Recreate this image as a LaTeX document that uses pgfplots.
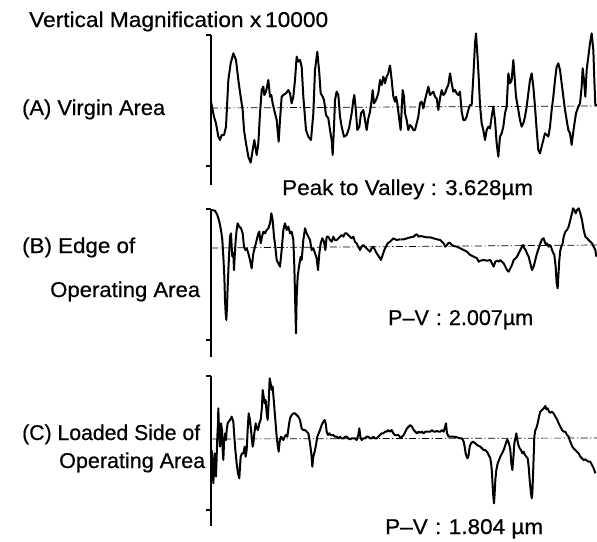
\documentclass[border=0pt]{standalone}
\usepackage{pgfplots}
\pgfplotsset{compat=1.18}
\usepackage{graphicx}
\usepackage{fontspec}
\setmainfont{Liberation Sans}
\newfontfamily\lblfont{Liberation Sans}[FakeBold=0.5]

% Profile traces are sampled in thirds of a point; each table block carries
% its own origin so the blocks join end to end along the trace.
\pgfplotsset{
  profile/.style={
    x=1bp, y=1bp, y dir=reverse,
    xmin=211, xmax=597,
    axis y line=left, axis x line=none,
    xtick=\empty,
    yticklabels={},
    tick align=outside,
    major tick length=5bp,
    every tick/.style={black, line width=1.5bp},
    y axis line style={-, line width=1.6bp},
    clip=false,
    scale only axis,
  },
  trace/.style={black, line width=2bp, line join=round, no markers},
  datum/.style={black, line width=0.7bp, no markers,
    dash pattern=on 7bp off 2.5bp on 1.2bp off 2.5bp},
}
% label set to a fixed width
\newcommand{\lbl}[2]{\resizebox{#1bp}{\height}{\lblfont\fontsize{21.5}{24}\selectfont #2}}

\begin{document}
\begin{tikzpicture}
\useasboundingbox (0,0) rectangle (597bp,-542bp);

% ---------------- (A) Virgin Area ----------------
\begin{axis}[profile, at={(211bp,-35bp)}, anchor=north west,
  ymin=35, ymax=185, ytick={35,166}]
\addplot[datum] coordinates {(211,108) (597,106)};
\addplot[trace] table[row sep=\\, x expr=\thisrow{x}/3+200, y expr=\thisrow{y}/3+30] {
x y\\
33 215\\ 38 240\\ 42 260\\ 48 280\\ 55 320\\ 60 330\\ 65 315\\ 72 315\\ 78 290\\ 85 150\\
92 100\\ 100 70\\ 108 90\\ 115 150\\ 122 200\\ 128 240\\ 132 300\\ 138 340\\ 145 380\\ 152 398\\
158 360\\ 163 330\\ 170 375\\ 175 340\\ 180 250\\ 185 180\\ 190 170\\ 193 195\\ 198 185\\ 205 150\\
210 200\\ 214 195\\ 218 220\\ 225 250\\ 230 270\\ 236 335\\ 240 270\\ 245 200\\ 250 195\\ 258 190\\
265 180\\ 270 190\\ 275 220\\ 280 200\\ 285 150\\ 290 80\\ 295 95\\ 300 90\\ 305 110\\ 310 200\\
318 300\\ 325 320\\ 333 330\\ 340 250\\ 345 120\\ 352 65\\ 358 130\\ 362 190\\ 368 200\\ 372 210\\
378 255\\ 385 265\\ 390 300\\ 395 330\\ 398 375\\ 402 290\\ 405 210\\ 410 185\\ 415 195\\ 420 260\\
425 290\\ 432 320\\ 440 315\\ 447 295\\ 455 250\\ 460 210\\ 463 195\\ 467 235\\ 472 300\\ 478 290\\
483 250\\ 490 240\\ 495 270\\ 500 300\\ 505 265\\ 510 245\\ 515 210\\ 518 180\\ 522 220\\ 528 210\\
535 190\\ 540 150\\ 545 165\\ 550 140\\ 555 160\\ 560 140\\ 565 130\\ 570 105\\
};
\addplot[trace] table[row sep=\\, x expr=\thisrow{x}/3+390, y expr=\thisrow{y}/3+30] {
x y\\
0 105\\ 5 150\\ 10 200\\ 15 215\\ 18 200\\ 22 220\\ 28 270\\ 32 300\\ 35 240\\ 38 180\\
42 200\\ 45 250\\ 50 270\\ 55 300\\ 60 285\\ 65 290\\ 70 300\\ 75 300\\ 80 280\\ 85 260\\
90 220\\ 95 215\\ 100 235\\ 105 210\\ 110 190\\ 115 170\\ 120 195\\ 125 190\\ 130 185\\ 135 200\\
140 205\\ 145 240\\ 150 205\\ 155 180\\ 160 195\\ 165 190\\ 170 175\\ 175 165\\ 180 130\\ 185 160\\
190 185\\ 195 180\\ 200 190\\ 205 195\\ 210 185\\ 215 245\\ 220 270\\ 225 270\\ 230 260\\ 235 240\\
240 225\\ 245 225\\ 250 140\\ 255 40\\ 258 10\\ 262 70\\ 266 140\\ 270 225\\ 275 280\\ 280 300\\
285 330\\ 290 300\\ 295 290\\ 300 295\\ 305 260\\ 310 230\\ 315 270\\ 320 340\\ 325 380\\ 330 320\\
335 310\\ 340 290\\ 345 250\\ 350 230\\ 355 130\\ 360 160\\ 365 150\\ 370 90\\ 373 130\\ 378 200\\
385 240\\ 390 270\\ 395 290\\ 400 280\\ 405 260\\ 410 230\\ 415 190\\ 420 150\\ 425 130\\ 430 170\\
435 230\\ 440 300\\ 445 360\\ 450 370\\ 455 350\\ 460 330\\ 465 310\\ 470 315\\ 475 320\\ 480 290\\
485 240\\ 490 200\\ 495 150\\ 500 110\\ 505 100\\ 510 120\\ 515 160\\ 520 200\\ 525 240\\ 530 270\\
535 300\\ 540 310\\ 545 345\\ 548 320\\ 552 290\\ 558 250\\ 565 230\\ 570 220\\ 575 170\\ 578 115\\
582 150\\ 586 200\\ 590 120\\ 595 80\\ 600 40\\ 605 10\\ 610 60\\ 613 150\\ 616 225\\ 622 225\\
};
\end{axis}

% ---------------- (B) Edge of Operating Area ----------------
\begin{axis}[profile, at={(211bp,-209bp)}, anchor=north west,
  ymin=209, ymax=357, ytick={209,340}]
\addplot[datum] coordinates {(211,248) (597,245)};
\addplot[trace] table[row sep=\\, x expr=\thisrow{x}/3+200, y expr=\thisrow{y}/3+200] {
x y\\
35 30\\ 45 32\\ 52 45\\ 58 65\\ 63 90\\ 67 120\\ 70 170\\ 73 230\\ 75 300\\ 77 340\\
79 360\\ 81 320\\ 83 260\\ 86 190\\ 88 150\\ 90 110\\ 93 100\\ 95 140\\ 97 170\\ 100 160\\
102 210\\ 104 170\\ 107 120\\ 110 90\\ 113 70\\ 118 80\\ 123 85\\ 128 100\\ 132 140\\ 136 150\\
140 145\\ 145 160\\ 150 180\\ 155 205\\ 160 160\\ 165 140\\ 170 120\\ 175 100\\ 178 95\\ 182 130\\
185 115\\ 190 95\\ 195 100\\ 200 90\\ 205 85\\ 210 70\\ 214 40\\ 218 60\\ 222 110\\ 226 140\\
230 180\\ 235 190\\ 240 200\\ 245 150\\ 250 90\\ 255 70\\ 260 90\\ 265 80\\ 270 100\\ 275 95\\
280 120\\ 283 200\\ 286 320\\ 288 400\\ 290 290\\ 293 230\\ 297 200\\ 302 170\\ 305 180\\ 310 120\\
315 85\\ 320 100\\ 325 110\\ 330 120\\ 335 150\\ 340 145\\ 345 160\\ 350 175\\ 354 210\\ 358 160\\
362 130\\ 367 115\\ 372 125\\ 376 150\\ 380 110\\ 385 110\\ 390 120\\ 395 125\\ 400 110\\ 405 120\\
410 120\\ 415 115\\ 420 110\\ 425 105\\ 430 110\\ 435 100\\ 440 100\\ 445 105\\ 450 110\\ 455 115\\
460 110\\ 465 125\\ 470 130\\ 475 140\\ 480 150\\ 485 140\\ 490 135\\ 495 140\\ 500 145\\ 505 150\\
510 155\\ 515 145\\ 520 140\\ 525 150\\ 530 160\\ 537 170\\ 543 180\\ 548 165\\ 553 150\\ 558 140\\
563 130\\ 570 125\\ 575 120\\ 580 115\\ 590 120\\ 600 118\\
};
\addplot[trace] table[row sep=\\, x expr=\thisrow{x}/3+397, y expr=\thisrow{y}/3+200] {
x y\\
10 118\\ 20 118\\ 30 115\\ 40 112\\ 50 110\\ 55 105\\ 60 103\\ 65 110\\ 70 108\\ 80 110\\
90 112\\ 100 112\\ 110 115\\ 120 118\\ 130 120\\ 140 130\\ 145 140\\ 150 135\\ 155 128\\ 160 130\\
165 135\\ 170 138\\ 180 140\\ 190 145\\ 200 150\\ 210 155\\ 220 165\\ 230 170\\ 240 175\\ 245 185\\
250 182\\ 260 180\\ 270 182\\ 280 180\\ 285 190\\ 290 200\\ 295 185\\ 300 182\\ 305 185\\ 310 180\\
315 185\\ 320 190\\ 325 200\\ 330 210\\ 335 215\\ 340 205\\ 345 195\\ 350 180\\ 355 175\\ 360 170\\
365 160\\ 370 150\\ 375 140\\ 378 135\\ 382 145\\ 386 150\\ 390 160\\ 395 170\\ 400 190\\ 405 210\\
410 200\\ 415 180\\ 420 160\\ 425 145\\ 430 130\\ 435 118\\ 440 115\\ 443 125\\ 447 135\\ 450 130\\
455 140\\ 458 135\\ 462 140\\ 467 155\\ 472 165\\ 476 200\\ 479 250\\ 482 265\\ 484 230\\ 487 180\\
490 150\\ 493 140\\ 497 130\\ 500 110\\ 505 95\\ 510 90\\ 515 80\\ 520 60\\ 525 40\\ 528 25\\
532 30\\ 536 40\\ 540 30\\ 545 25\\ 550 40\\ 555 60\\ 560 90\\ 565 110\\ 570 115\\ 575 120\\
580 125\\ 585 130\\ 590 140\\ 595 150\\ 598 170\\
};
\end{axis}

% ---------------- (C) Loaded Side of Operating Area ----------------
\begin{axis}[profile, at={(211bp,-376bp)}, anchor=north west,
  ymin=376, ymax=526, ytick={376,510}]
\addplot[datum] coordinates {(211,439) (597,438)};
\addplot[trace] table[row sep=\\, x expr=\thisrow{x}/3+200, y expr=\thisrow{y}/3+370] {
x y\\
35 240\\ 38 290\\ 40 340\\ 42 300\\ 44 250\\ 46 280\\ 48 320\\ 50 260\\ 52 200\\ 54 160\\
55 115\\ 57 180\\ 60 230\\ 63 160\\ 66 180\\ 68 240\\ 70 270\\ 72 220\\ 75 190\\ 78 210\\
80 180\\ 83 160\\ 86 155\\ 90 150\\ 95 140\\ 100 155\\ 103 200\\ 106 240\\ 110 280\\ 114 310\\
118 325\\ 120 290\\ 122 260\\ 126 250\\ 130 250\\ 134 230\\ 137 260\\ 140 240\\ 143 180\\ 146 130\\
150 150\\ 153 180\\ 156 210\\ 158 230\\ 160 220\\ 163 190\\ 167 160\\ 170 175\\ 174 180\\ 178 160\\
182 150\\ 186 110\\ 188 60\\ 191 80\\ 194 100\\ 197 90\\ 200 130\\ 203 150\\ 206 100\\ 209 25\\
212 40\\ 215 60\\ 218 50\\ 222 100\\ 226 150\\ 230 200\\ 233 225\\ 236 245\\ 239 215\\ 243 200\\
247 205\\ 250 210\\ 254 200\\ 258 195\\ 262 200\\ 266 170\\ 270 145\\ 275 135\\ 280 130\\ 285 130\\
290 135\\ 295 140\\ 300 150\\ 305 175\\ 310 180\\ 315 180\\ 320 185\\ 325 190\\ 330 220\\ 334 250\\
337 290\\ 340 260\\ 344 245\\ 348 225\\ 352 200\\ 356 190\\ 360 180\\ 365 165\\ 370 155\\ 374 150\\
377 160\\ 380 185\\ 384 195\\ 388 190\\ 392 195\\ 396 195\\ 400 195\\ 405 200\\ 410 200\\ 415 205\\
420 200\\ 425 205\\ 430 205\\ 435 200\\ 440 200\\ 445 205\\ 450 208\\ 455 205\\ 460 205\\ 465 205\\
470 210\\ 475 195\\ 478 175\\ 481 200\\ 485 210\\ 490 205\\ 495 205\\ 500 200\\ 505 200\\ 510 205\\
515 205\\ 520 200\\ 525 205\\ 530 205\\ 535 200\\ 540 195\\ 545 190\\ 550 190\\ 555 185\\ 560 185\\
565 180\\ 570 185\\ 575 180\\ 580 190\\ 585 195\\ 590 195\\ 595 195\\ 600 200\\
};
\addplot[trace] table[row sep=\\, x expr=\thisrow{x}/3+397, y expr=\thisrow{y}/3+370] {
x y\\
8 200\\ 12 205\\ 15 200\\ 20 195\\ 25 185\\ 30 175\\ 35 170\\ 40 165\\ 45 170\\ 50 180\\
55 185\\ 60 190\\ 65 185\\ 70 188\\ 75 185\\ 80 190\\ 85 185\\ 90 185\\ 95 185\\ 100 185\\
105 180\\ 110 185\\ 115 185\\ 120 183\\ 125 185\\ 130 185\\ 135 180\\ 140 185\\ 143 175\\ 147 160\\
150 190\\ 155 200\\ 160 200\\ 170 200\\ 180 202\\ 190 205\\ 195 205\\ 200 215\\ 203 230\\ 206 250\\
209 260\\ 212 265\\ 215 255\\ 218 230\\ 222 220\\ 228 215\\ 235 220\\ 240 225\\ 250 230\\ 255 235\\
260 240\\ 265 240\\ 270 245\\ 275 255\\ 280 265\\ 283 285\\ 285 310\\ 287 350\\ 289 380\\ 291 400\\
293 370\\ 295 330\\ 298 300\\ 302 280\\ 306 270\\ 310 260\\ 315 250\\ 320 240\\ 325 225\\ 328 215\\
331 208\\ 334 215\\ 337 225\\ 340 240\\ 343 280\\ 346 300\\ 349 265\\ 352 220\\ 355 205\\ 358 190\\
361 210\\ 364 225\\ 368 235\\ 372 240\\ 376 250\\ 380 245\\ 384 255\\ 388 260\\ 392 265\\ 395 290\\
398 330\\ 401 360\\ 404 385\\ 406 370\\ 408 320\\ 410 260\\ 412 200\\ 415 180\\ 418 175\\ 422 160\\
426 140\\ 430 125\\ 435 120\\ 440 115\\ 445 108\\ 448 118\\ 452 115\\ 456 125\\ 460 128\\ 465 125\\
470 130\\ 475 140\\ 480 148\\ 485 160\\ 490 170\\ 495 180\\ 500 185\\ 505 185\\ 510 195\\ 515 200\\
518 210\\ 522 220\\ 526 230\\ 530 235\\ 535 240\\ 540 245\\ 545 250\\ 550 260\\ 555 265\\ 560 270\\
565 268\\ 570 272\\ 575 275\\ 580 275\\ 585 285\\ 590 295\\ 595 310\\
};
\end{axis}

% ---------------- labels ----------------
\begin{scope}[every node/.style={inner sep=0pt, anchor=base west}]
\node at (29bp,-27bp)   {\lbl{299}{Vertical Magnification x\,10000}};
\node at (22bp,-115bp)  {\lbl{143}{(A) Virgin Area}};
\node at (282bp,-195bp) {\lbl{251}{Peak to Valley : 3.628µm}};
\node at (22bp,-253bp)  {\lbl{113}{(B) Edge of}};
\node at (50bp,-297bp)  {\lbl{150}{Operating Area}};
\node at (388bp,-325bp) {\lbl{145}{P–V\hspace{7bp}:\hspace{7bp}2.007µm}};
\node at (22bp,-440bp)  {\lbl{178}{(C) Loaded Side of}};
\node at (59bp,-468bp)  {\lbl{146}{Operating Area}};
\node at (385bp,-534bp) {\lbl{158}{P–V\hspace{7bp}:\hspace{7bp}1.804 µm}};
\end{scope}
\end{tikzpicture}
\end{document}
